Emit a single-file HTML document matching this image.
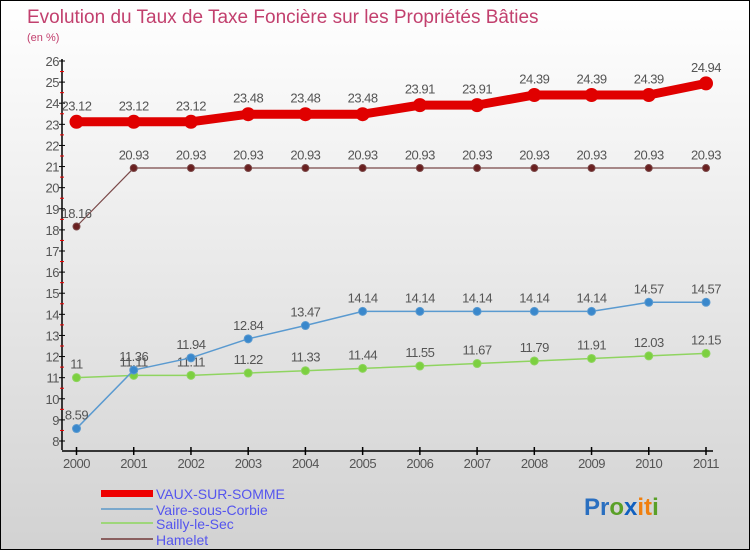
<!DOCTYPE html>
<html><head><meta charset="utf-8"><style>
body{margin:0}
#c{width:750px;height:550px;position:relative;box-sizing:border-box;border:1px solid #000;background:linear-gradient(#ffffff,#d2d2d2);font-family:"Liberation Sans",sans-serif;overflow:hidden}
</style></head><body>
<div id="c">
<svg width="750" height="550" style="position:absolute;left:0;top:0" id="s">
<text x="26" y="22" font-size="19" fill="#c2406e">Evolution du Taux de Taxe Foncière sur les Propriétés Bâties</text>
<text x="26" y="40" font-size="11" fill="#c2406e">(en %)</text>
<g id="axes"></g><g id="series"></g>
<g>
<rect x="100" y="489" width="52" height="7" fill="#e00"/>
<text x="155" y="498" font-size="14" fill="#5555ee">VAUX-SUR-SOMME</text>
<line x1="100" y1="508" x2="152" y2="508" stroke="#7aa8cc" stroke-width="2"/>
<text x="155" y="514" font-size="14" fill="#5555ee">Vaire-sous-Corbie</text>
<line x1="100" y1="522" x2="152" y2="522" stroke="#9ed67a" stroke-width="2"/>
<text x="155" y="528" font-size="14" fill="#5555ee">Sailly-le-Sec</text>
<line x1="100" y1="538" x2="152" y2="538" stroke="#8a6060" stroke-width="2"/>
<text x="155" y="544" font-size="14" fill="#5555ee">Hamelet</text>
</g>
<text x="583" y="514" font-size="24" font-weight="bold"><tspan fill="#2a6fc0">Pr</tspan><tspan fill="#5aa028">o</tspan><tspan fill="#1060c0">x</tspan><tspan fill="#f08010">it</tspan><tspan fill="#5aa028">i</tspan></text>
</svg>
</div>
<script>
const years=[2000,2001,2002,2003,2004,2005,2006,2007,2008,2009,2010,2011];
const vaux=[23.12,23.12,23.12,23.48,23.48,23.48,23.91,23.91,24.39,24.39,24.39,24.94];
const hamelet=[18.16,20.93,20.93,20.93,20.93,20.93,20.93,20.93,20.93,20.93,20.93,20.93];
const vaire=[8.59,11.36,11.94,12.84,13.47,14.14,14.14,14.14,14.14,14.14,14.57,14.57];
const sailly=[11,11.11,11.11,11.22,11.33,11.44,11.55,11.67,11.79,11.91,12.03,12.15];
const yTicks=[8,9,10,11,12,13,14,15,16,17,18,19,20,21,22,23,24,25,26];
const NS="http://www.w3.org/2000/svg";
const X=i=>75.5+i*(705-75.5)/(years.length-1);
const Y=v=>440-(v-8)*(380/18);
function mk(t,a,p){const e=document.createElementNS(NS,t);for(const k in a)e.setAttribute(k,a[k]);p.appendChild(e);return e;}
const ax=document.getElementById('axes');
let l=mk('line',{x1:61,y1:58,x2:61,y2:449,stroke:'#000','stroke-width':1.5},ax);

l=mk('line',{x1:61,y1:450,x2:712,y2:450,stroke:'#000','stroke-width':1.5},ax);

yTicks.forEach(v=>{
 mk('line',{x1:58,y1:Y(v),x2:64,y2:Y(v),stroke:'#000'},ax);
 if(v<26) mk('line',{x1:59,y1:Y(v+0.5),x2:63,y2:Y(v+0.5),stroke:'#e00'},ax);
 const t=mk('text',{x:58,y:Y(v)+5,'text-anchor':'end','font-size':13,fill:'#555','letter-spacing':'-0.5'},ax);
 t.textContent=v;
 
});
years.forEach((y,i)=>{
 mk('line',{x1:X(i),y1:446,x2:X(i),y2:454,stroke:'#000','stroke-width':1.5},ax);
 const t=mk('text',{x:X(i),y:467,'text-anchor':'middle','font-size':13,fill:'#555','letter-spacing':'-0.5'},ax);
 t.textContent=y;
 
});
const sg=document.getElementById('series');
function draw(vals,name,col,fill,w,r,fs){
 const g=mk('g',{},sg);
 
 const pl=mk('polyline',{points:vals.map((v,i)=>X(i)+','+Y(v)).join(' '),fill:'none',stroke:col,'stroke-width':w,'stroke-linejoin':'round'},g);
 
 vals.forEach((v,i)=>{
  const c=mk('circle',{cx:X(i),cy:Y(v),r:r,fill:fill,stroke:col,'stroke-width':1},g);
  
  const t=mk('text',{x:X(i),y:Y(v)-r-5,'text-anchor':'middle','font-size':fs,fill:'#555','letter-spacing':'-0.5'},g);
  t.textContent=v;
  
 });
}
draw(hamelet,'hamelet','#7a4848','#6a2020',1.2,3.5,13);
draw(sailly,'sailly','#8fd460','#7cd040',1.5,4,13);
draw(vaire,'vaire','#5a9ad0','#3a88cc',1.5,4,13);
draw(vaux,'vaux','#e00000','#e00000',9,6.5,13);
</script>
</body></html>
